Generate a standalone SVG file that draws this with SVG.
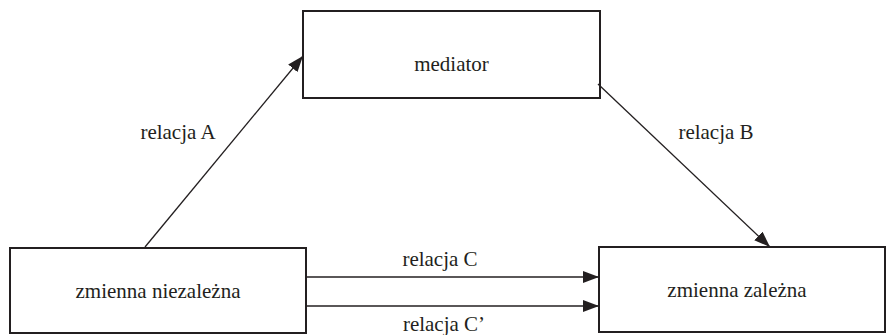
<svg xmlns="http://www.w3.org/2000/svg" width="887" height="335" viewBox="0 0 887 335">
  <style>
    .box { fill: #ffffff; stroke: #231f20; stroke-width: 2; }
    .lbl { font-family: 'Liberation Serif', 'Times New Roman', 'DejaVu Serif', serif; font-size: 21px; fill: #231f20; }
    .edge { stroke: #231f20; stroke-width: 1.3; fill: none; marker-end: url(#head); }
  </style>
  <defs>
    <marker id="head" viewBox="0 0 16 12" refX="16" refY="6" markerWidth="16" markerHeight="12" markerUnits="userSpaceOnUse" orient="auto">
      <path d="M0,0 L16,6 L0,12 Z" fill="#231f20"/>
    </marker>
  </defs>
  <rect width="887" height="335" fill="#ffffff"/>

  <g id="mediator">
    <rect class="box" x="303" y="11" width="297" height="87"/>
    <text class="lbl" font-family="Liberation Serif, serif" x="451.5" y="71" text-anchor="middle">mediator</text>
  </g>

  <g id="zmienna-niezalezna">
    <rect class="box" x="10" y="248" width="296" height="85"/>
    <text class="lbl" font-family="Liberation Serif, serif" x="158" y="298" text-anchor="middle">zmienna niezależna</text>
  </g>

  <g id="zmienna-zalezna">
    <rect class="box" x="599" y="247" width="286" height="85"/>
    <text class="lbl" font-family="Liberation Serif, serif" x="737" y="297" text-anchor="middle">zmienna zależna</text>
  </g>

  <g id="connectors">
    <line class="edge" x1="145" y1="247" x2="303" y2="56"/>
    <line class="edge" x1="598" y1="84" x2="770" y2="247"/>
    <line class="edge" x1="306" y1="277" x2="599" y2="277"/>
    <line class="edge" x1="306" y1="306" x2="599" y2="306"/>
    <text class="lbl" font-family="Liberation Serif, serif" x="178" y="139" text-anchor="middle">relacja A</text>
    <text class="lbl" font-family="Liberation Serif, serif" x="716" y="139" text-anchor="middle">relacja B</text>
    <text class="lbl" font-family="Liberation Serif, serif" x="440" y="266" text-anchor="middle">relacja C</text>
    <text class="lbl" font-family="Liberation Serif, serif" x="444" y="331" text-anchor="middle">relacja C’</text>
  </g>
</svg>
